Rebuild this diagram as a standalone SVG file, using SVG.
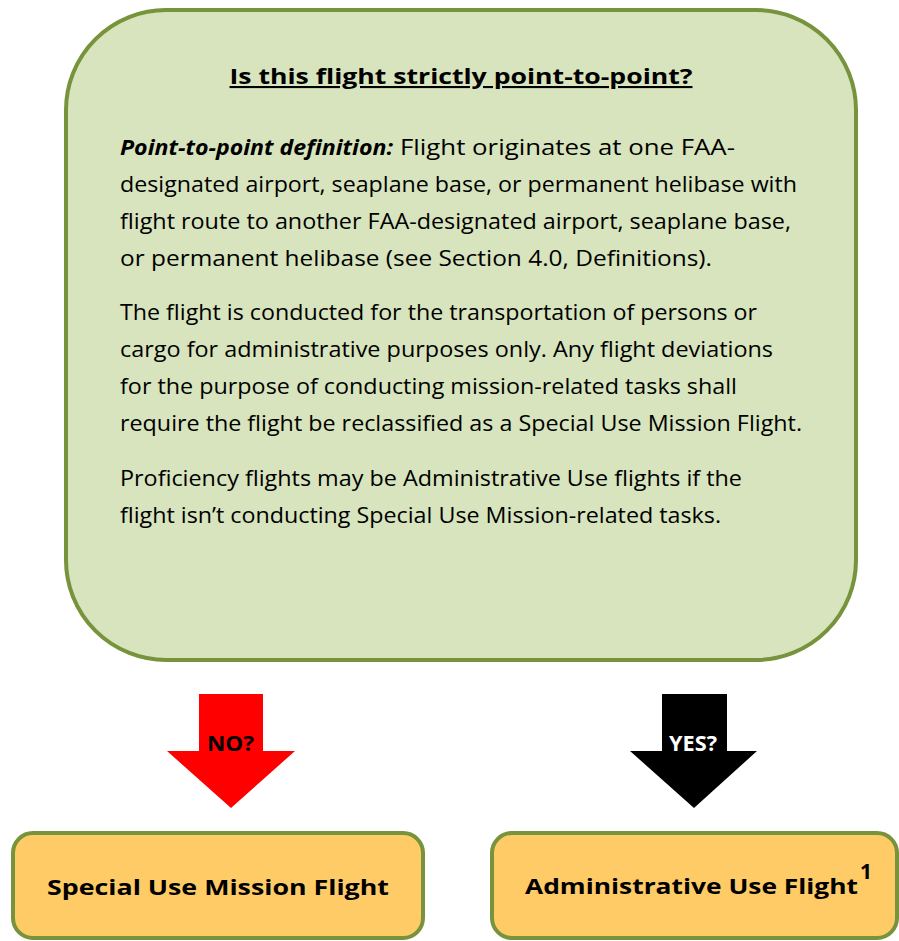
<svg xmlns="http://www.w3.org/2000/svg" width="899" height="941" viewBox="0 0 899 941">
<style>
.t{font-family:"Open Sans","Liberation Sans",sans-serif;font-size:21px;fill:#000}
.b{font-weight:bold}
.box{stroke:#77933C;stroke-width:4}
</style>
<rect width="899" height="941" fill="#fff"/>
<g id="question">
<rect class="box" x="66" y="10" width="790" height="650" rx="100" fill="#D7E4BD"/>
<text class="t b" x="461" y="84" text-anchor="middle" font-size="26" text-decoration="underline" textLength="463" lengthAdjust="spacingAndGlyphs">Is this flight strictly point-to-point?</text>
<text class="t b" x="120" y="155" font-style="italic" textLength="273" lengthAdjust="spacingAndGlyphs">Point-to-point definition:</text>
<text class="t" x="400" y="155" textLength="335" lengthAdjust="spacingAndGlyphs">Flight originates at one FAA-</text>
<text class="t" x="120" y="192" textLength="677" lengthAdjust="spacingAndGlyphs">designated airport, seaplane base, or permanent helibase with</text>
<text class="t" x="120" y="229" textLength="671" lengthAdjust="spacingAndGlyphs">flight route to another FAA-designated airport, seaplane base,</text>
<text class="t" x="120" y="266" textLength="592" lengthAdjust="spacingAndGlyphs">or permanent helibase (see Section 4.0, Definitions).</text>
<text class="t" x="120" y="320" textLength="637" lengthAdjust="spacingAndGlyphs">The flight is conducted for the transportation of persons or</text>
<text class="t" x="120" y="357" textLength="653" lengthAdjust="spacingAndGlyphs">cargo for administrative purposes only. Any flight deviations</text>
<text class="t" x="120" y="394" textLength="617" lengthAdjust="spacingAndGlyphs">for the purpose of conducting mission-related tasks shall</text>
<text class="t" x="120" y="431" textLength="682" lengthAdjust="spacingAndGlyphs">require the flight be reclassified as a Special Use Mission Flight.</text>
<text class="t" x="120" y="486" textLength="622" lengthAdjust="spacingAndGlyphs">Proficiency flights may be Administrative Use flights if the</text>
<text class="t" x="120" y="523" textLength="601" lengthAdjust="spacingAndGlyphs">flight isn’t conducting Special Use Mission-related tasks.</text>
</g>
<g id="connectors">
<g id="no-arrow">
<polygon points="199,694 263,694 263,751 295,751 231,808 167,751 199,751" fill="#FF0000"/>
<text class="t b" x="207" y="751" font-size="24" textLength="47" lengthAdjust="spacingAndGlyphs">NO?</text>
</g>
<g id="yes-arrow">
<polygon points="662,694 727,694 727,751 757,751 694,808 630,751 662,751" fill="#000"/>
<text class="t b" x="669" y="751" font-size="24" textLength="48" lengthAdjust="spacingAndGlyphs" style="fill:#fff">YES?</text>
</g>
</g>
<g id="special-use">
<rect class="box" x="13" y="833" width="410" height="105" rx="20" fill="#FECB67"/>
<text class="t b" x="47" y="895" font-size="28" textLength="342" lengthAdjust="spacingAndGlyphs">Special Use Mission Flight</text>
</g>
<g id="administrative-use">
<rect class="box" x="492" y="833" width="405" height="105" rx="20" fill="#FECB67"/>
<text class="t b" x="525" y="894" font-size="28" textLength="333" lengthAdjust="spacingAndGlyphs">Administrative Use Flight</text>
<text class="t b" x="860" y="879" font-size="16">1</text>
</g>
</svg>
